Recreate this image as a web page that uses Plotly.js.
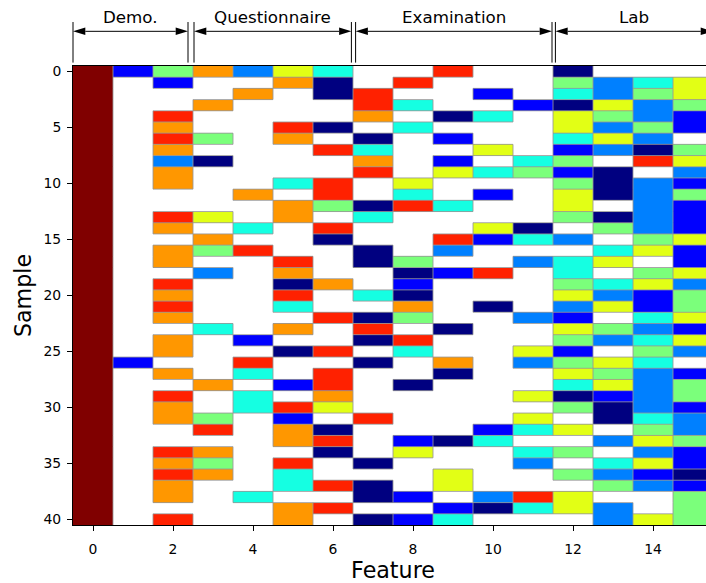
<!DOCTYPE html>
<html>
<head>
<meta charset="utf-8">
<script src="https://cdn.plot.ly/plotly-3.0.1.min.js"></script>
<style>
  html, body { margin: 0; padding: 0; overflow: hidden; background: #fff; }
  #chart { width: 713px; height: 583px; }
</style>
</head>
<body>
<div id="chart"></div>
<script>
// Missing entries are left blank (null)
const _ = null;

// Feature index (columns) and sample index (rows)
const featureIds = [0, 1, 2, 3, 4, 5, 6, 7, 8, 9, 10, 11, 12, 13, 14, 15];
const sampleIds = [];
for (let i = 0; i <= 40; i++) sampleIds.push(i);

// Binned value of each sample/feature (0..8), one row per sample
const cellValues = [
  [8, 1, 4, 6, 2, 5, 3, _, _, 7, _, _, 0, _, _, _],
  [8, _, 1, _, _, 6, 0, _, 7, _, _, _, 4, 2, 3, 5],
  [8, _, _, _, 6, _, 0, 7, _, _, 1, _, 3, 2, 4, 5],
  [8, _, _, 6, _, _, _, 7, 3, _, _, 1, 0, 5, 2, 4],
  [8, _, 7, _, _, _, _, 6, _, 0, 3, _, 5, 4, 2, 1],
  [8, _, 6, _, _, 7, 0, _, 3, _, _, _, 5, 2, 4, 1],
  [8, _, 7, 4, _, 6, _, 0, _, 1, _, _, 3, 5, 2, _],
  [8, _, 6, _, _, _, 7, 3, _, _, 5, _, 1, 2, 0, 4],
  [8, _, 2, 0, _, _, _, 6, _, 1, _, 3, 4, _, 7, 5],
  [8, _, 6, _, _, _, _, 7, _, 5, 3, 4, 1, 0, _, 2],
  [8, _, 6, _, _, 3, 7, _, 5, _, _, _, 4, 0, 2, 1],
  [8, _, _, _, 6, _, 7, _, 3, _, 1, _, 5, 0, 2, 4],
  [8, _, _, _, _, 6, 4, 0, 7, 3, _, _, 5, _, 2, 1],
  [8, _, 7, 5, _, 6, _, 3, _, _, _, _, 4, 0, 2, 1],
  [8, _, 6, _, 3, _, 7, _, _, _, 5, 0, _, 4, 2, 1],
  [8, _, _, 6, _, _, 0, _, _, 7, 1, 3, 2, _, 4, 5],
  [8, _, 6, 4, 7, _, _, 0, _, 2, _, _, _, 3, 5, 1],
  [8, _, 6, _, _, 7, _, 0, 4, _, _, 2, 3, 5, _, 1],
  [8, _, _, 2, _, 6, _, _, 0, 1, 7, _, 3, _, 4, 5],
  [8, _, 7, _, _, 0, 6, _, 1, _, _, _, 4, 3, 5, 2],
  [8, _, 6, _, _, 7, _, 3, 0, _, _, _, 5, 2, 1, 4],
  [8, _, 7, _, _, 3, _, _, 6, _, 0, _, 2, 5, 1, 4],
  [8, _, 6, _, _, _, 7, 0, 4, _, _, 2, 1, _, 3, 5],
  [8, _, _, 3, _, 6, _, 7, _, 0, _, _, 5, 4, 2, 1],
  [8, _, 6, _, 1, _, _, 0, 7, _, _, _, 4, 2, 3, 5],
  [8, _, 6, _, _, 0, 7, _, 3, _, _, 5, 1, _, 4, 2],
  [8, 1, _, _, 7, _, _, 0, _, 6, _, 2, 4, 5, 3, _],
  [8, _, 6, _, 3, _, 7, _, _, 0, _, _, 5, 4, 2, 1],
  [8, _, _, 6, _, 1, 7, _, 0, _, _, _, 3, 5, 2, 4],
  [8, _, 7, _, 3, _, 6, _, _, _, _, 5, 0, 1, 2, 4],
  [8, _, 6, _, 3, 7, 5, _, _, _, _, _, 4, 0, 2, 1],
  [8, _, 6, 4, _, 1, _, 7, _, _, _, 5, _, 0, 3, 2],
  [8, _, _, 7, _, 6, 0, _, _, _, 1, 3, 5, _, 4, 2],
  [8, _, _, _, _, 6, 7, _, 1, 0, 3, _, _, 2, 5, 4],
  [8, _, 7, 6, _, _, 0, _, 5, _, _, 3, 4, _, 2, 1],
  [8, _, 6, 4, _, 7, _, 0, _, _, _, 2, _, 3, 5, 1],
  [8, _, 7, 6, _, 3, _, _, _, 5, _, _, 4, 2, 1, 0],
  [8, _, 6, _, _, 3, 7, 0, _, 5, _, _, _, 4, 2, 1],
  [8, _, 6, _, 3, _, _, 0, 1, _, 2, 7, 5, _, _, 4],
  [8, _, _, _, _, 6, 7, _, _, 1, 0, 3, 5, 2, _, 4],
  [8, _, 7, _, _, 6, _, 0, 1, 3, _, _, _, 2, 5, 4]
];
const valueMin = 0;
const valueMax = 8;

// Feature groups shown in the header
const groupNames = ['Demo.', 'Questionnaire', 'Examination', 'Lab'];
const groupFirstCol = [0, 3, 7, 12];
const groupLastCol = [2, 6, 11, 15];

// Tick labels
const xTickVals = [0, 2, 4, 6, 8, 10, 12, 14];
const yTickVals = [0, 5, 10, 15, 20, 25, 30, 35, 40];

// Matplotlib-style "jet" colour map built from its segment data
function jetChannel(pts, t) {
  for (let i = 1; i < pts.length; i++) {
    if (t <= pts[i][0]) {
      const [x0, y0] = pts[i - 1], [x1, y1] = pts[i];
      return y0 + (y1 - y0) * (t - x0) / (x1 - x0);
    }
  }
  return pts[pts.length - 1][1];
}
const JET_R = [[0, 0], [0.35, 0], [0.66, 1], [0.89, 1], [1, 0.5]];
const JET_G = [[0, 0], [0.125, 0], [0.375, 1], [0.64, 1], [0.91, 0], [1, 0]];
const JET_B = [[0, 0.5], [0.11, 1], [0.34, 1], [0.65, 0], [1, 0]];
const jetScale = [];
for (let i = 0; i <= 64; i++) {
  const t = i / 64;
  const c = [JET_R, JET_G, JET_B].map(p => Math.round(255 * jetChannel(p, t)));
  jetScale.push([t, `rgb(${c[0]},${c[1]},${c[2]})`]);
}

// Thin grey edges wherever two neighbouring cells differ
function cellEdgesPath(grid) {
  let d = '';
  const nr = grid.length, nc = grid[0].length;
  for (let r = 0; r < nr; r++) {
    for (let c = 0; c < nc; c++) {
      const v = grid[r][c];
      if (c + 1 < nc) {
        const w = grid[r][c + 1];
        if (v !== w) d += `M${c + 0.5},${r - 0.5}L${c + 0.5},${r + 0.5}`;
      }
      if (r + 1 < nr) {
        const w = grid[r + 1][c];
        if (v !== w) d += `M${c - 0.5},${r + 0.5}L${c + 0.5},${r + 0.5}`;
      }
    }
  }
  return d;
}

const FONT = 'DejaVu Sans, Liberation Sans, sans-serif';
const xLo = -0.5, xHi = 15.5;
const colToPaper = c => (c - xLo) / (xHi - xLo);

// Header geometry (paper units above the plot area)
const plotH = 583 - 65.7 - 58.1;
const pyOf = px => 1 + px / plotH;          // px above top edge of plot
const tickTop = pyOf(44), tickBottom = pyOf(3.4), arrowY = pyOf(34.7), labelY = pyOf(49);
const headLen = 12.3 / 40 / (xHi - xLo);    // arrow head length in paper units
const headHalf = 3.7 / plotH;

const shapes = [{
  type: 'path', xref: 'x', yref: 'y', layer: 'above',
  path: cellEdgesPath(cellValues),
  line: { color: 'rgba(150,150,150,0.85)', width: 1 }
}];
const annotations = [];
const padL = [0, 0.025, 0.065, 0.06];
const padR = [0.125, 0.04, 0.025, 0];
groupNames.forEach((name, g) => {
  const xl = colToPaper(groupFirstCol[g] - 0.5 + padL[g]);
  const xr = colToPaper(groupLastCol[g] + 0.5 - padR[g]);
  const line = { color: '#000', width: 1 };
  shapes.push({ type: 'line', xref: 'paper', yref: 'paper', x0: xl, x1: xl, y0: tickBottom, y1: tickTop, line });
  shapes.push({ type: 'line', xref: 'paper', yref: 'paper', x0: xr, x1: xr, y0: tickBottom, y1: tickTop, line });
  shapes.push({ type: 'line', xref: 'paper', yref: 'paper', x0: xl + headLen, x1: xr - headLen, y0: arrowY, y1: arrowY, line });
  shapes.push({ type: 'path', xref: 'paper', yref: 'paper', fillcolor: '#000', line: { width: 0 },
    path: `M${xl},${arrowY}L${xl + headLen},${arrowY + headHalf}L${xl + headLen},${arrowY - headHalf}Z` });
  shapes.push({ type: 'path', xref: 'paper', yref: 'paper', fillcolor: '#000', line: { width: 0 },
    path: `M${xr},${arrowY}L${xr - headLen},${arrowY + headHalf}L${xr - headLen},${arrowY - headHalf}Z` });
  annotations.push({
    xref: 'paper', yref: 'paper', x: (xl + xr) / 2, y: labelY,
    xanchor: 'center', yanchor: 'middle', showarrow: false, text: name,
    font: { family: FONT, size: 16.7, color: '#000' }
  });
});

const trace = {
  type: 'heatmap',
  z: cellValues, x: featureIds, y: sampleIds,
  zmin: valueMin, zmax: valueMax,
  colorscale: jetScale, showscale: false,
  hoverongaps: false, zsmooth: false
};

const axisCommon = {
  showgrid: false, zeroline: false,
  showline: true, mirror: true, linecolor: '#000', linewidth: 1,
  ticks: 'outside', ticklen: 5, tickwidth: 1, tickcolor: '#000',
  tickfont: { family: FONT, size: 13.9, color: '#000' }
};

const layout = {
  width: 713, height: 583,
  margin: { l: 72.7, r: 0, t: 65.7, b: 58.1 },
  paper_bgcolor: '#fff', plot_bgcolor: '#fff',
  showlegend: false,
  xaxis: Object.assign({}, axisCommon, {
    range: [xLo, xHi], tickvals: xTickVals, tickmode: 'array',
    ticklabelstandoff: 6,
    title: { text: 'Feature', font: { family: FONT, size: 22.2, color: '#000' }, standoff: 0 }
  }),
  yaxis: Object.assign({}, axisCommon, {
    range: [40.5, -0.5], tickvals: yTickVals, tickmode: 'array',
    ticklabelstandoff: 3,
    title: { text: 'Sample', font: { family: FONT, size: 22.2, color: '#000' }, standoff: 5 }
  }),
  shapes: shapes,
  annotations: annotations
};

Plotly.newPlot('chart', [trace], layout, { displayModeBar: false, staticPlot: true });
</script>
</body>
</html>
